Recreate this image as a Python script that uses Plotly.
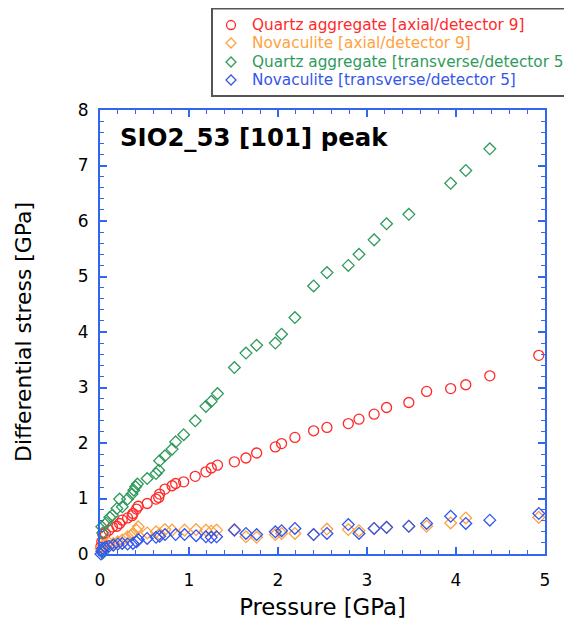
import plotly.graph_objects as go

# Quartz aggregate, axial / detector 9
qa_p = [0.01, 0.02, 0.03, 0.06, 0.10, 0.14, 0.19, 0.22, 0.25, 0.31, 0.36, 0.37, 0.41, 0.43, 0.53, 0.63, 0.66, 0.67,
        0.73, 0.81, 0.85, 0.94, 1.07, 1.19, 1.25, 1.32, 1.51, 1.64, 1.76, 1.97, 2.04, 2.19, 2.40, 2.55, 2.79, 2.91,
        3.08, 3.22, 3.47, 3.67, 3.94, 4.11, 4.38, 4.93]
qa_s = [0.13, 0.22, 0.36, 0.37, 0.43, 0.49, 0.50, 0.55, 0.61, 0.65, 0.69, 0.73, 0.81, 0.86, 0.91, 0.99, 1.02, 1.08,
        1.17, 1.23, 1.27, 1.30, 1.40, 1.48, 1.55, 1.60, 1.66, 1.73, 1.82, 1.93, 1.99, 2.10, 2.22, 2.28, 2.35, 2.43,
        2.52, 2.64, 2.73, 2.93, 2.98, 3.05, 3.21, 3.58]

# Novaculite, axial / detector 9
na_p = [0.01, 0.03, 0.07, 0.10, 0.15, 0.20, 0.25, 0.31, 0.36, 0.37, 0.41, 0.43, 0.53, 0.63, 0.67, 0.73, 0.81, 0.95,
        1.08, 1.19, 1.25, 1.31, 1.51, 1.64, 1.76, 1.97, 2.04, 2.19, 2.40, 2.55, 2.79, 2.91, 3.08, 3.22, 3.47, 3.67,
        3.94, 4.11, 4.93]
na_s = [0.10, 0.15, 0.17, 0.20, 0.19, 0.22, 0.25, 0.31, 0.35, 0.37, 0.43, 0.49, 0.38, 0.40, 0.36, 0.44, 0.43, 0.43,
        0.44, 0.43, 0.41, 0.43, 0.44, 0.31, 0.30, 0.35, 0.37, 0.37, 0.35, 0.45, 0.44, 0.42, 0.46, 0.48, 0.50, 0.50,
        0.56, 0.65, 0.66]

# Quartz aggregate, transverse / detector 5
qt_p = [0.03, 0.02, 0.03, 0.07, 0.11, 0.14, 0.19, 0.22, 0.25, 0.31, 0.36, 0.38, 0.40, 0.42, 0.53, 0.63, 0.66, 0.67,
        0.73, 0.81, 0.85, 0.94, 1.07, 1.19, 1.25, 1.32, 1.51, 1.64, 1.76, 1.97, 2.04, 2.19, 2.40, 2.55, 2.79, 2.91,
        3.08, 3.22, 3.47, 3.94, 4.11, 4.38]
qt_s = [0.02, 0.49, 0.38, 0.56, 0.66, 0.70, 0.82, 0.99, 0.85, 0.99, 1.08, 1.15, 1.21, 1.26, 1.36, 1.45, 1.51, 1.68,
        1.77, 1.89, 2.02, 2.15, 2.40, 2.66, 2.75, 2.89, 3.36, 3.62, 3.76, 3.80, 3.96, 4.26, 4.83, 5.07, 5.20, 5.40,
        5.66, 5.95, 6.12, 6.68, 6.91, 7.30]

# Novaculite, transverse / detector 5
nt_p = [0.01, 0.02, 0.03, 0.06, 0.10, 0.15, 0.20, 0.25, 0.31, 0.37, 0.41, 0.43, 0.53, 0.63, 0.67, 0.73, 0.85, 0.95,
        1.08, 1.19, 1.25, 1.31, 1.51, 1.64, 1.76, 1.97, 2.04, 2.19, 2.40, 2.55, 2.79, 2.91, 3.08, 3.22, 3.47, 3.67,
        3.94, 4.11, 4.38, 4.93]
nt_s = [0.00, 0.05, 0.10, 0.12, 0.14, 0.16, 0.18, 0.19, 0.18, 0.19, 0.22, 0.26, 0.28, 0.30, 0.32, 0.35, 0.35, 0.35,
        0.33, 0.31, 0.30, 0.31, 0.43, 0.37, 0.35, 0.40, 0.42, 0.46, 0.35, 0.37, 0.53, 0.37, 0.46, 0.48, 0.50, 0.55,
        0.68, 0.55, 0.61, 0.73]

names = ["Quartz aggregate [axial/detector 9]", "Novaculite [axial/detector 9]",
         "Quartz aggregate [transverse/detector 5]", "Novaculite [transverse/detector 5]"]
colors = ["#ff2a2a", "#ffa240", "#2f9a5c", "#3355ee"]
symbols = ["circle-open", "diamond-open", "diamond-open", "diamond-open"]
sizes = [10, 9, 9, 9]
xs = [qa_p, na_p, qt_p, nt_p]
ys = [qa_s, na_s, qt_s, nt_s]

FONT = "DejaVu Sans, Liberation Sans, Arial, sans-serif"
AX = "#3366ee"

fig = go.Figure()
for i in range(4):
    fig.add_trace(go.Scatter(
        x=xs[i], y=ys[i], mode="markers", cliponaxis=False, name=names[i], showlegend=False,
        marker=dict(symbol=symbols[i], size=sizes[i], color=colors[i], line=dict(width=1.3, color=colors[i])),
    ))

axis_common = dict(
    showline=True, linecolor=AX, linewidth=2, mirror="ticks", showgrid=False, zeroline=False,
    ticks="inside", ticklen=7, tickwidth=1.5, tickcolor=AX,
    tickfont=dict(family=FONT, size=17, color="black"),
)

fig.update_xaxes(range=[0, 5], dtick=1, ticklabelstandoff=10,
                 minor=dict(ticks="inside", ticklen=4, dtick=0.2, tickcolor=AX, tickwidth=1.2),
                 title=dict(text="Pressure [GPa]", font=dict(family=FONT, size=22.8, color="black"), standoff=10),
                 **axis_common)
fig.update_yaxes(range=[0, 8], dtick=1, ticklabelstandoff=6,
                 minor=dict(ticks="inside", ticklen=4, dtick=0.2, tickcolor=AX, tickwidth=1.2),
                 title=dict(text="Differential stress [GPa]", font=dict(family=FONT, size=21.9, color="black"), standoff=40),
                 **axis_common)

fig.add_annotation(text="<b>SIO2_53 [101] peak</b>", xref="paper", yref="paper", x=0.04, y=0.937,
                   xanchor="left", yanchor="middle", showarrow=False,
                   font=dict(family=FONT, size=24.4, color="black"))

# Legend box (drawn by hand so that its proportions match the reference)
fig.add_shape(type="rect", xref="paper", yref="paper", x0=0.2517, x1=1.10, y0=1.0315, y1=1.2286,
              line=dict(color="#555555", width=2), fillcolor="white", layer="above")
leg_y = [1.1914, 1.1509, 1.1081, 1.0676]
diamond = "M 0 -5 L 5 0 L 0 5 L -5 0 Z"
for i in range(4):
    if symbols[i].startswith("circle"):
        fig.add_shape(type="circle", xref="paper", yref="paper", xsizemode="pixel", ysizemode="pixel",
                      xanchor=0.2944, yanchor=leg_y[i], x0=-4.5, x1=4.5, y0=-4.5, y1=4.5,
                      line=dict(color=colors[i], width=1.3))
    else:
        fig.add_shape(type="path", xref="paper", yref="paper", xsizemode="pixel", ysizemode="pixel",
                      xanchor=0.2944, yanchor=leg_y[i], path=diamond,
                      line=dict(color=colors[i], width=1.3))
    fig.add_annotation(text=names[i], xref="paper", yref="paper", x=0.3371, y=leg_y[i],
                       xanchor="left", yanchor="middle", showarrow=False,
                       font=dict(family=FONT, size=15.3, color=colors[i]))

fig.update_layout(
    width=572, height=615,
    margin=dict(l=92, r=35, t=102, b=69, autoexpand=False),
    paper_bgcolor="white", plot_bgcolor="white",
    font=dict(family=FONT),
    showlegend=False,
)

fig.write_html("out.html")
